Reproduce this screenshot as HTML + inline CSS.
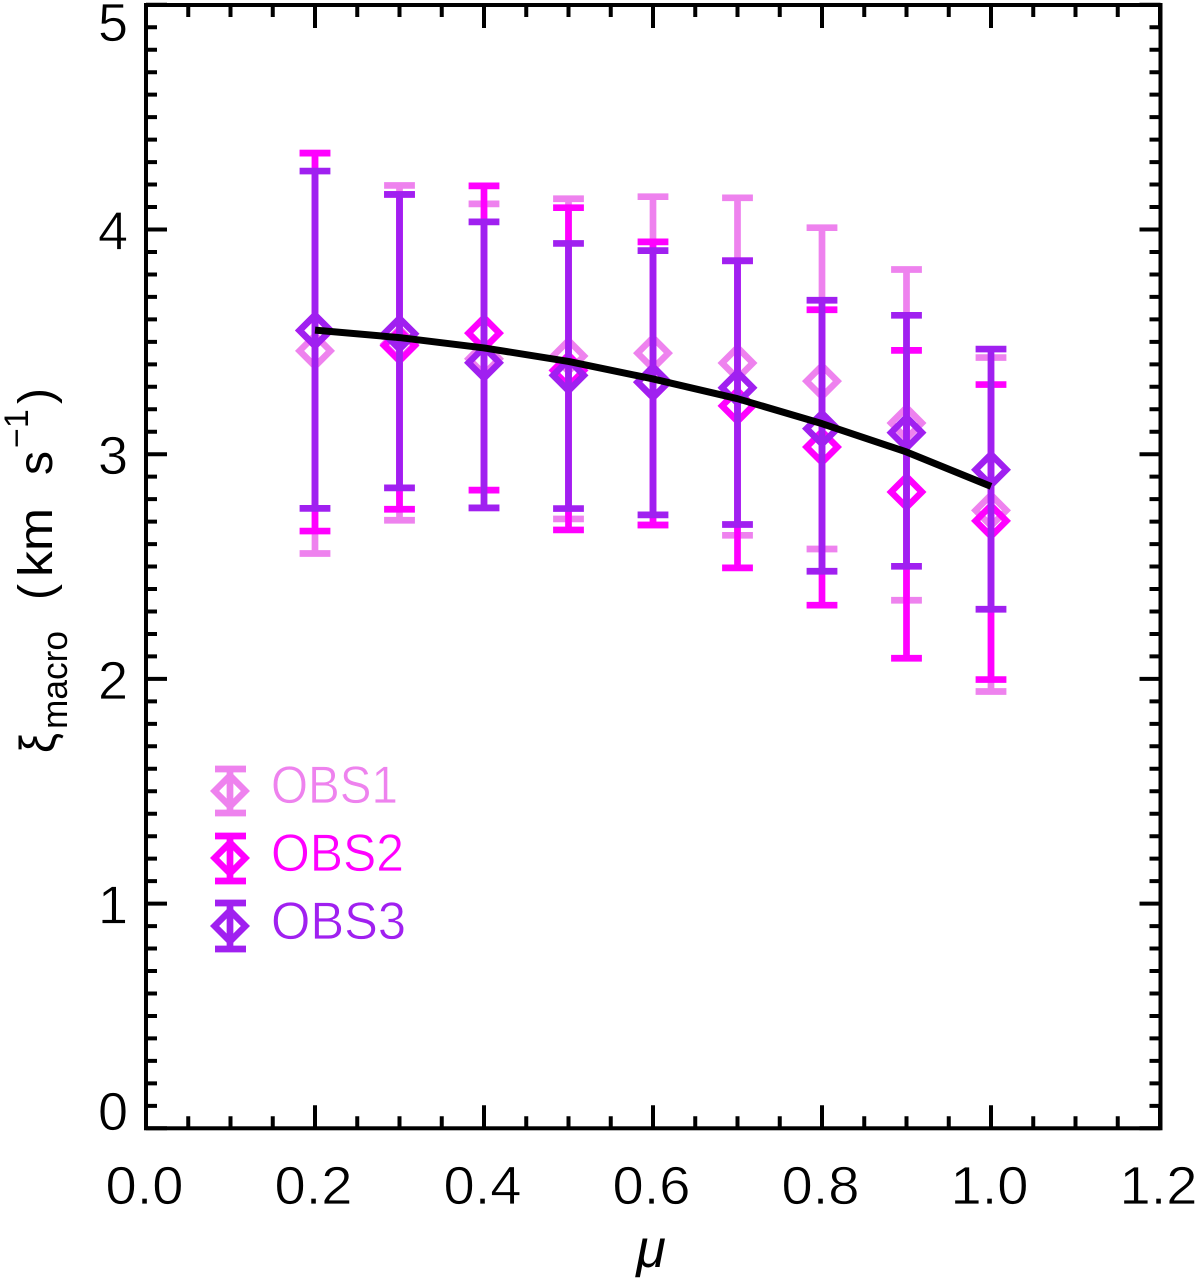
<!DOCTYPE html>
<html>
<head>
<meta charset="utf-8">
<title>Macroturbulence vs mu</title>
<style>
html,body{margin:0;padding:0;background:#fff;width:1200px;height:1284px;overflow:hidden}
svg{display:block}
text{font-family:"Liberation Sans",sans-serif}
.thin{stroke:#fff;stroke-width:.7}
</style>
</head>
<body>
<svg id="chart" xmlns="http://www.w3.org/2000/svg" width="1200" height="1284" viewBox="0 0 1200 1284">
  <rect x="0" y="0" width="1200" height="1284" fill="#fff"/>
  <g id="marks"></g>
  <rect x="146" y="5" width="1014.5" height="1123.3" fill="none" stroke="#000" stroke-width="4"/>
  <g id="ticks"></g>

  <text x="651" y="1267" font-size="54" font-style="italic" text-anchor="middle" fill="#000">μ</text>

  <g fill="#000">
    <text transform="translate(55,753) rotate(-90)" font-size="50" textLength="20" lengthAdjust="spacingAndGlyphs">ξ</text>
    <text transform="translate(67,729) rotate(-90)" font-size="36" textLength="98" lengthAdjust="spacingAndGlyphs">macro</text>
    <text transform="translate(52,600) rotate(-90)" font-size="48"><tspan x="0">(</tspan><tspan x="23" textLength="69" lengthAdjust="spacingAndGlyphs">km</tspan><tspan x="125">s</tspan><tspan x="152" dy="-24" font-size="34">−1</tspan><tspan x="196" dy="24">)</tspan></text>
  </g>

  <g fill="none" stroke-width="6.5">
    <g stroke="#EE82EE">
      <path d="M230 769V813M215 769H246M215 813H246" stroke-width="6.7"/>
      <path d="M230 775.6L245.4 791L230 806.4L214.6 791Z"/>
      <text class="thin" x="271" y="803" font-size="53" fill="#EE82EE" textLength="127" lengthAdjust="spacingAndGlyphs">OBS1</text>
    </g>
    <g stroke="#FF00FF">
      <path d="M230 836V881M215 836H246M215 881H246" stroke-width="6.7"/>
      <path d="M230 842.6L245.4 858L230 873.4L214.6 858Z"/>
      <text class="thin" x="271" y="871" font-size="53" fill="#FF00FF" textLength="133" lengthAdjust="spacingAndGlyphs">OBS2</text>
    </g>
    <g stroke="#A020F0">
      <path d="M230 903V949M215 903H246M215 949H246" stroke-width="6.7"/>
      <path d="M230 910.6L245.4 926L230 941.4L214.6 926Z"/>
      <text class="thin" x="271" y="939" font-size="53" fill="#A020F0" textLength="135" lengthAdjust="spacingAndGlyphs">OBS3</text>
    </g>
  </g>
</svg>
<script>
const muValues = [0.2, 0.3, 0.4, 0.5, 0.6, 0.7, 0.8, 0.9, 1.0];

const obs1Values = [3.46, 3.49, 3.425, 3.437, 3.45, 3.406, 3.325, 3.139, 2.75];
const obs1Upper  = [4.34, 4.196, 4.114, 4.137, 4.146, 4.141, 4.008, 3.822, 3.43];
const obs1Lower  = [2.558, 2.706, 2.761, 2.712, 2.685, 2.639, 2.578, 2.35, 1.944];

const obs2Values = [3.55, 3.484, 3.539, 3.373, 3.32, 3.215, 3.032, 2.832, 2.703];
const obs2Upper  = [4.34, 4.156, 4.194, 4.097, 3.945, 3.861, 3.643, 3.462, 3.31];
const obs2Lower  = [2.658, 2.755, 2.84, 2.663, 2.685, 2.494, 2.328, 2.092, 1.997];

const obs3Values = [3.551, 3.536, 3.407, 3.351, 3.321, 3.296, 3.114, 3.096, 2.931];
const obs3Upper  = [4.26, 4.156, 4.034, 3.938, 3.906, 3.861, 3.685, 3.618, 3.468];
const obs3Lower  = [2.759, 2.85, 2.761, 2.758, 2.73, 2.687, 2.479, 2.501, 2.31];

const modelValues = [3.552, 3.519, 3.473, 3.413, 3.335, 3.247, 3.136, 3.01, 2.857];

const xTickLabels = ["0.0", "0.2", "0.4", "0.6", "0.8", "1.0", "1.2"];
const yTickLabels = ["0", "1", "2", "3", "4", "5"];

const NS = "http://www.w3.org/2000/svg";
const xScale = v => 146 + (v / 1.2) * 1014;
const yScale = v => 1128.3 - v * 224.7;

function make(tag, attrs, parent) {
  const el = document.createElementNS(NS, tag);
  for (const k in attrs) el.setAttribute(k, attrs[k]);
  parent.appendChild(el);
  return el;
}

const marks = document.getElementById("marks");
const ticks = document.getElementById("ticks");

function drawSeries(name, color, values, upper, lower) {
  const g = make("g", {stroke: color, fill: "none"}, marks);
  
  
  muValues.forEach((m, i) => {
    const x = xScale(m), yv = yScale(values[i]), yu = yScale(upper[i]), yl = yScale(lower[i]);
    const bar = make("path", {
      d: `M${x} ${yu}V${yl}M${x - 15.4} ${yu}H${x + 15.4}M${x - 15.4} ${yl}H${x + 15.4}`,
      "stroke-width": 6.7
    }, g);
    
    
    const r = 15.4;
    const point = make("path", {
      d: `M${x} ${yv - r}L${x + r} ${yv}L${x} ${yv + r}L${x - r} ${yv}Z`,
      "stroke-width": 6.5
    }, g);
    
    
  });
}

drawSeries("obs1", "#EE82EE", obs1Values, obs1Upper, obs1Lower);
drawSeries("obs2", "#FF00FF", obs2Values, obs2Upper, obs2Lower);
drawSeries("obs3", "#A020F0", obs3Values, obs3Upper, obs3Lower);

const modelLine = make("polyline", {
  points: muValues.map((m, i) => xScale(m) + "," + yScale(modelValues[i])).join(" "),
  fill: "none", stroke: "#000", "stroke-width": 7, "stroke-linejoin": "round"
}, marks);



// x ticks: every 0.05, major every 0.2
for (let i = 0; i <= 24; i++) {
  const x = xScale(i * 0.05);
  const len = i % 4 === 0 ? 23 : 12;
  const t = make("path", {d: `M${x} 1128.3V${1128.3 - len}M${x} 5V${5 + len}`, stroke: "#000", "stroke-width": 4}, ticks);
  
  
}
// y ticks: every 0.1, major every 1
for (let i = 0; i <= 50; i++) {
  const y = yScale(i * 0.1);
  const len = i % 10 === 0 ? 21 : 11;
  const t = make("path", {d: `M146 ${y}H${146 + len}M1160.5 ${y}H${1160.5 - len}`, stroke: "#000", "stroke-width": 4}, ticks);
  
  
}

xTickLabels.forEach(label => {
  const t = make("text", {
    x: xScale(parseFloat(label)) - 1.5, y: 1204, "font-size": 54, "text-anchor": "middle",
    fill: "#000", class: "thin", textLength: 78, lengthAdjust: "spacingAndGlyphs"
  }, ticks);
  
  
  t.textContent = label;
});

yTickLabels.forEach(label => {
  const base = Math.min(1130, Math.max(41, yScale(parseFloat(label)) + 20));
  const t = make("text", {
    x: 113, y: base, "font-size": 54, "text-anchor": "middle", fill: "#000", class: "thin"
  }, ticks);
  
  
  t.textContent = label;
});
</script>
</body>
</html>
